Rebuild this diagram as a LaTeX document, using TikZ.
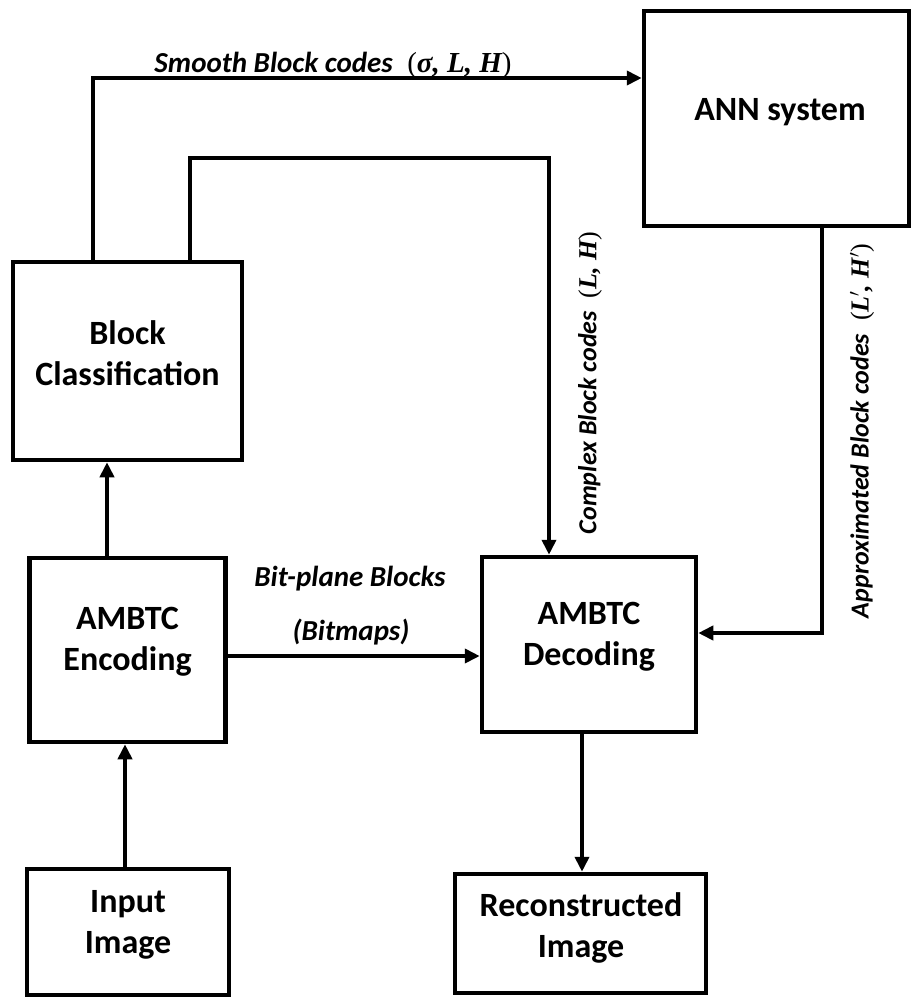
\documentclass[tikz,border=0pt]{standalone}
\usepackage{fontspec}
\setmainfont{Carlito}
\newfontfamily\mfont{Liberation Serif}
\newcommand\mth[1]{{\mfont\bfseries\itshape #1}}
\newcommand\mpar[1]{{\mfont\mdseries\upshape #1}}
\usetikzlibrary{arrows.meta}
\begin{document}
\begin{tikzpicture}[x=1pt,y=-1pt,
  box/.style={draw,line width=4.5pt,rectangle,inner sep=0pt},
  txt/.style={align=center,inner sep=0pt,font=\fontsize{34}{41}\selectfont\bfseries},
  arr/.style={line width=4pt,-{Triangle[length=15pt,width=14pt]}},
  lab/.style={font=\fontsize{29}{35}\selectfont\bfseries\itshape},
  vlab/.style={font=\fontsize{26}{31}\selectfont\bfseries\itshape,rotate=90}]
\useasboundingbox (0,0) rectangle (914,997);

\node[box,minimum width=265pt,minimum height=215pt] (ann) at (776.5,118.5) {};
\node[box,minimum width=229pt,minimum height=198pt] (cls) at (127.5,361) {};
\node[box,minimum width=196pt,minimum height=184pt] (enc) at (127.5,650) {};
\node[box,minimum width=214pt,minimum height=175pt] (dec) at (589,644.5) {};
\node[box,minimum width=202pt,minimum height=126pt] (in) at (128,932) {};
\node[box,minimum width=251pt,minimum height=119pt] (rec) at (580.5,933.5) {};

\node[txt] (annt) at (780,112) {ANN system};
\node[txt] (clst) at (127.5,353) {Block\\Classification};
\node[txt] (enct) at (127.5,642) {AMBTC\\Encoding};
\node[txt] (dect) at (589,637) {AMBTC\\Decoding};
\node[txt] (int) at (128,925) {Input\\Image};
\node[txt] (rect) at (581,928) {Reconstructed\\Image};

\draw[arr] (cls.north -| 93,0) |- (ann.west |- 0,78);
\draw[arr] (cls.north -| 190,0) -- (190,158) -| (dec.north -| 549,0);
\draw[arr] (ann.south -| 822,0) |- (dec.east |- 0,633);
\draw[arr] (enc.north -| 107,0) -- (cls.south -| 107,0);
\draw[arr] (enc.east |- 0,656) -- (dec.west |- 0,656);
\draw[arr] (in.north -| 125,0) -- (enc.south -| 125,0);
\draw[arr] (dec.south -| 582,0) -- (rec.north -| 582,0);

\node[lab] (lsm) at (333,65) {Smooth Block codes\hspace{0.5em}\mpar{(}\mth{σ, L, H}\mpar{)}};
\node[lab] (lbp) at (350,579) {Bit-plane Blocks};
\node[lab] (lbm) at (351,632) {(Bitmaps)};
\node[vlab] (lcx) at (590,383) {Complex Block codes\hspace{0.5em}\mpar{(}\mth{L, H}\mpar{)}};
\node[vlab] (lap) at (862,431) {Approximated Block codes\hspace{0.5em}\mpar{(}\mth{L$'$, H$'$}\mpar{)}};
\end{tikzpicture}
\end{document}
